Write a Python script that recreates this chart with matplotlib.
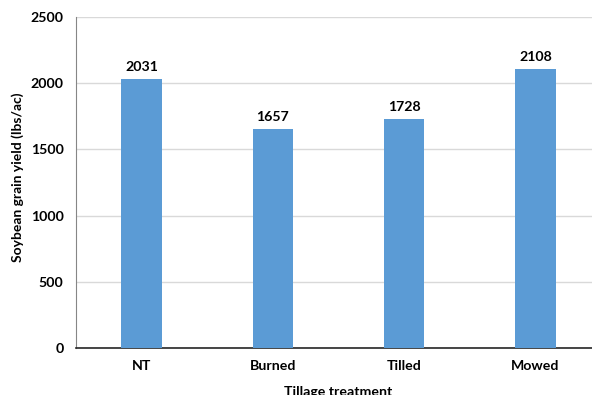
import matplotlib.pyplot as plt

treatments = ['NT', 'Burned', 'Tilled', 'Mowed']
yields = [2031, 1657, 1728, 2108]
yticks = [0, 500, 1000, 1500, 2000, 2500]

plt.rcParams['font.family'] = ['Lato', 'DejaVu Sans']
plt.rcParams['font.weight'] = 'bold'

fig = plt.figure(figsize=(5.92, 3.95), dpi=100)
ax = fig.add_axes([76 / 592, 1 - 348 / 395, (601 - 76) / 592, (348 - 17) / 395])

x = range(len(treatments))
ax.bar(x, yields, width=0.31, color='#5B9BD5', zorder=3)
for xi, v in zip(x, yields):
    ax.text(xi, v + 45, str(v), ha='center', va='bottom', fontsize=10.2, fontweight='bold', color='black')

ax.set_xlim(-0.5, 3.5)
ax.set_ylim(0, 2500)
ax.set_yticks(yticks)
ax.set_xticks(list(x))
ax.set_xticklabels(treatments)
ax.tick_params(axis='both', length=0, labelsize=10.2, pad=9)
ax.yaxis.grid(True, color='#D9D9D9', linewidth=1, zorder=0)
for s in ['top', 'right']:
    ax.spines[s].set_visible(False)
ax.spines['left'].set_color('#868686')
ax.spines['bottom'].set_color('#262626')
ax.spines['bottom'].set_linewidth(1.2)

ax.set_ylabel('Soybean grain yield (lbs/ac)', fontsize=10, fontweight='bold')
ax.set_xlabel('Tillage treatment', fontsize=10.2, fontweight='bold', labelpad=10)
ax.yaxis.set_label_coords(-0.099, 0.515)

fig.savefig('out.png', dpi=100)
